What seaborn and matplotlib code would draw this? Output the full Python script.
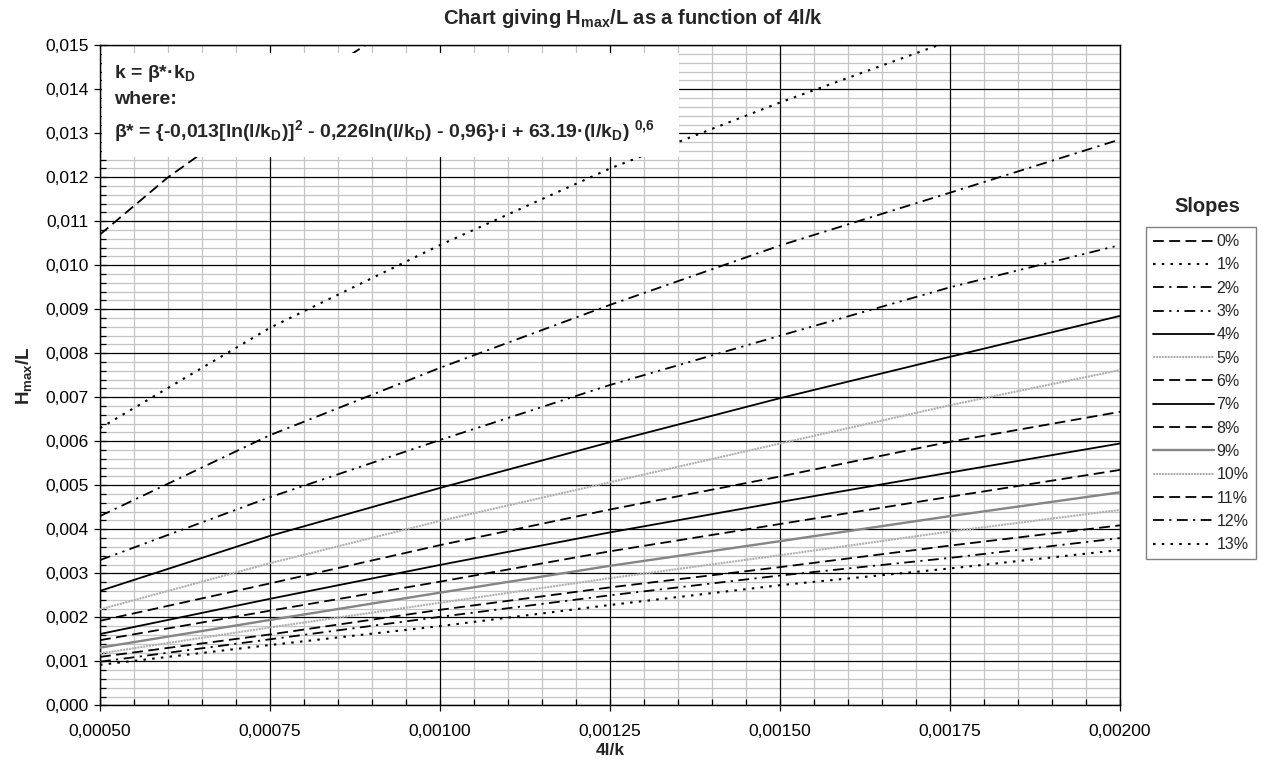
import matplotlib
matplotlib.use("Agg")
import matplotlib.pyplot as plt
import seaborn as sns
import pandas as pd
from matplotlib.ticker import MultipleLocator, FuncFormatter
from matplotlib.patches import Rectangle

# ── Data ──────────────────────────────────────────────────────────────────────
x_vals = [0.0005, 0.00075, 0.0010, 0.00125, 0.0015, 0.00175, 0.0020]
x_zero = [0.0005, 0.0006, 0.0007, 0.0008, 0.0009, 0.0010]

slope_0 = [0.0107, 0.0120, 0.0131, 0.0141, 0.0151, 0.0160]
slope_1 = [0.0063, 0.00858, 0.01046, 0.0122, 0.0137, 0.0151, 0.0164]
slope_2 = [0.0043, 0.00614, 0.00767, 0.0091, 0.01045, 0.01165, 0.01286]
slope_3 = [0.0033, 0.00473, 0.00603, 0.00728, 0.0084, 0.0095, 0.01046]
slope_4 = [0.0026, 0.00385, 0.00494, 0.00598, 0.00698, 0.00792, 0.00885]
slope_5 = [0.00218, 0.00323, 0.00419, 0.00507, 0.00595, 0.00682, 0.00762]
slope_6 = [0.00192, 0.00277, 0.00364, 0.00445, 0.0052, 0.00599, 0.00667]
slope_7 = [0.00162, 0.00242, 0.00319, 0.00393, 0.00462, 0.00529, 0.00595]
slope_8 = [0.00148, 0.00215, 0.00281, 0.0035, 0.00412, 0.00474, 0.00535]
slope_9 = [0.00131, 0.00194, 0.00256, 0.00317, 0.00373, 0.0043, 0.00484]
slope_10 = [0.00118, 0.00177, 0.00233, 0.00289, 0.00341, 0.00395, 0.00444]
slope_11 = [0.0011, 0.00161, 0.00217, 0.00268, 0.00314, 0.00363, 0.00409]
slope_12 = [0.00099, 0.0015, 0.00201, 0.0025, 0.00295, 0.00335, 0.0038]
slope_13 = [0.00092, 0.00137, 0.0018, 0.00228, 0.00273, 0.00311, 0.00353]

labels = [f"{i}%" for i in range(14)]
series = [slope_0, slope_1, slope_2, slope_3, slope_4, slope_5, slope_6,
          slope_7, slope_8, slope_9, slope_10, slope_11, slope_12, slope_13]

# ── Styles ────────────────────────────────────────────────────────────────────
DASH = (0, (6, 3))
DOT = (0, (1.2, 3))
DASHDOT = (0, (6, 3, 1.2, 3))
DASHDOTDOT = (0, (6, 3, 1.2, 3, 1.2, 3))
LIGHT = (0, (1, 0.4))
styles = [
    ("black", DASH, 1.3), ("black", DOT, 1.5), ("black", DASHDOT, 1.3),
    ("black", DASHDOTDOT, 1.3), ("black", "-", 1.3), ("#b0b0b0", LIGHT, 1.5),
    ("black", DASH, 1.3), ("black", "-", 1.3), ("black", DASH, 1.3),
    ("#858585", "-", 1.7), ("#b0b0b0", LIGHT, 1.5), ("black", DASH, 1.3),
    ("black", DASHDOT, 1.3), ("black", DOT, 1.5),
]

sns.set_theme(style="white")
plt.rcParams["font.family"] = ["Liberation Sans", "DejaVu Sans"]
plt.rcParams["mathtext.fontset"] = "custom"
plt.rcParams["mathtext.rm"] = "Liberation Sans:bold"
plt.rcParams["mathtext.bf"] = "Liberation Sans:bold"
plt.rcParams["mathtext.default"] = "bf"

fig = plt.figure(figsize=(12.62, 7.62), dpi=100)
ax = fig.add_axes([100 / 1262, 1 - 705.3 / 762, 1020 / 1262, 660 / 762])

# ── Lines ─────────────────────────────────────────────────────────────────────
for i, (lab, vals) in enumerate(zip(labels, series)):
    xs = x_zero if i == 0 else x_vals
    df = pd.DataFrame({"x": xs, "y": vals})
    c, ls, lw = styles[i]
    sns.lineplot(data=df, x="x", y="y", ax=ax, color=c, linestyle=ls,
                 linewidth=lw, label=lab, errorbar=None, sort=False, zorder=3)

# ── Axes ──────────────────────────────────────────────────────────────────────
ax.set_xlim(0.0005, 0.002)
ax.set_ylim(0, 0.015)
ax.xaxis.set_major_locator(MultipleLocator(0.00025))
ax.xaxis.set_minor_locator(MultipleLocator(0.00005))
ax.yaxis.set_major_locator(MultipleLocator(0.001))
ax.yaxis.set_minor_locator(MultipleLocator(0.0002))
ax.xaxis.set_major_formatter(FuncFormatter(lambda v, p: f"{v:.5f}".replace(".", ",")))
ax.yaxis.set_major_formatter(FuncFormatter(lambda v, p: f"{v:.3f}".replace(".", ",")))

# minor grid from the tick machinery, major grid drawn on top so gray never covers black
ax.grid(which="minor", color="#c4c4c4", linewidth=0.9)
ax.grid(which="major", visible=False)
ax.set_axisbelow(True)
for xv in ax.get_xticks():
    ax.axvline(xv, color="black", linewidth=0.9, zorder=1)
for yv in ax.get_yticks():
    ax.axhline(yv, color="black", linewidth=0.9, zorder=1)

ax.tick_params(which="major", direction="inout", length=9, width=0.9,
               colors="black", labelsize=12.5, bottom=True, left=True)
ax.tick_params(axis="x", which="major", pad=9)
ax.tick_params(which="minor", direction="in", length=4, width=0.9,
               colors="black", bottom=True, left=True)
for s in ax.spines.values():
    s.set_color("black")
    s.set_linewidth(1)

ax.set_xlabel("4l/k", fontsize=12.5, fontweight="bold", labelpad=3)
ax.set_ylabel("H$_{max}$/L", fontsize=13.5, fontweight="bold", labelpad=8)
fig.text(633 / 1262, 1 - 18 / 762, "Chart giving H$_{max}$/L as a function of 4l/k",
         ha="center", va="center", fontsize=14.5, fontweight="bold")

# ── Formula box ───────────────────────────────────────────────────────────────
ax.add_patch(Rectangle((0.002, 0.831), 0.566, 0.157, transform=ax.transAxes,
                       facecolor="white", edgecolor="none", zorder=4))
ax.text(0.014, 0.957, "k = β*·k$_D$", transform=ax.transAxes, fontsize=14,
        fontweight="bold", va="center", zorder=5)
ax.text(0.014, 0.918, "where:", transform=ax.transAxes, fontsize=14,
        fontweight="bold", va="center", zorder=5)
ax.text(0.014, 0.870,
        "β* = {-0,013[ln(l/k$_D$)]$^2$ - 0,226ln(l/k$_D$) - 0,96}·i + 63.19·(l/k$_D$) $^{0{,}6}$",
        transform=ax.transAxes, fontsize=14, fontweight="bold", va="center", zorder=5)

# ── Legend ────────────────────────────────────────────────────────────────────
ax.legend(loc="upper left", bbox_to_anchor=(1146 / 1262, 1 - 227 / 762),
          bbox_transform=fig.transFigure, frameon=True, fancybox=False,
          edgecolor="#808080", fontsize=11.5, handlelength=3.8, handletextpad=0.15,
          labelspacing=0.52, borderpad=0.45, borderaxespad=0, framealpha=1)
fig.text(1207 / 1262, 1 - 207 / 762, "Slopes", ha="center", va="center",
         fontsize=14.5, fontweight="bold")

fig.savefig("out.png", dpi=100)
